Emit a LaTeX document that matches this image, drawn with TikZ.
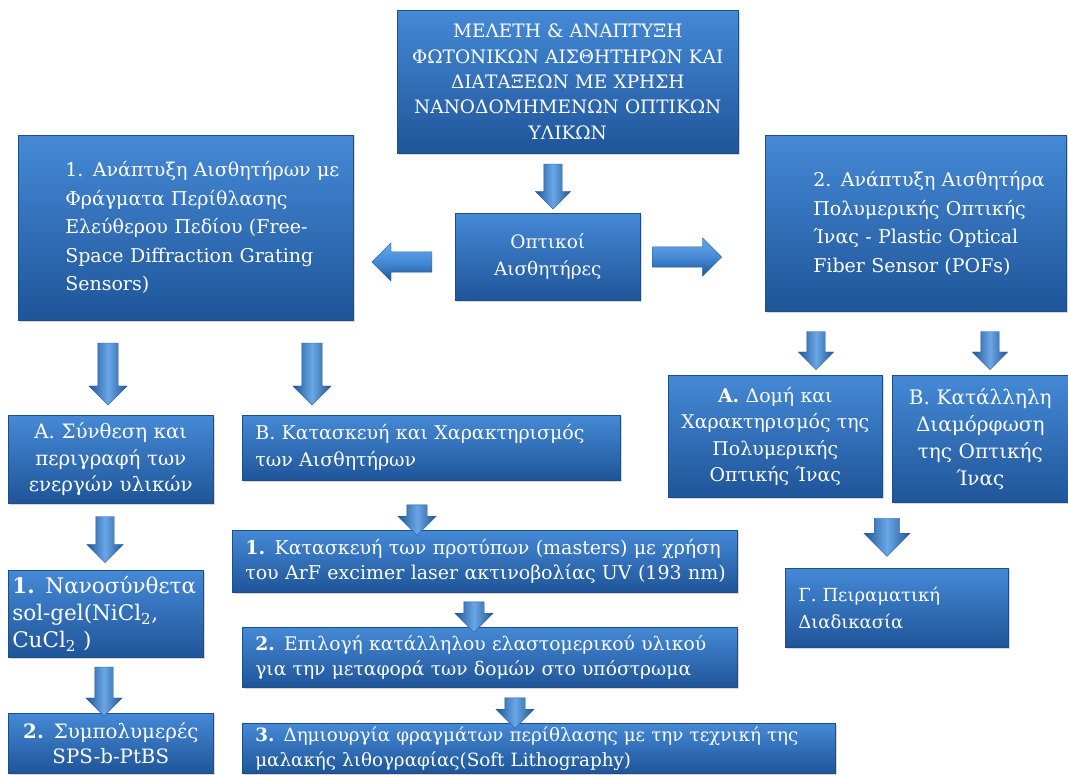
\documentclass[tikz,border=0pt]{standalone}
\usepackage{fontspec}
\setmainfont{DejaVu Serif}
\usetikzlibrary{shapes.arrows,shadows}
\definecolor{boxtop}{HTML}{4589D6}
\definecolor{boxbot}{HTML}{1F5599}
\definecolor{boxedge}{HTML}{1D4E8A}
\definecolor{arrlight}{HTML}{6AA6E6}
\definecolor{arrdark}{HTML}{1F5799}

\begin{document}
\begin{tikzpicture}[x=1pt, y=-1pt]
  \tikzstyle{box} = [draw=boxedge, line width=0.6pt, top color=boxtop, bottom color=boxbot, text=white, anchor=north west, inner ysep=0pt, inner xsep=13pt, drop shadow={shadow xshift=1.5pt, shadow yshift=-1.5pt, opacity=0.3}, font=\fontsize{18}{27}\selectfont]
  \tikzstyle{darr} = [single arrow, shape border rotate=270, single arrow head extend=9pt, minimum width=38pt, inner sep=10pt, left color=arrdark, right color=arrdark, middle color=arrlight, draw=arrdark, line width=0.3pt]
  \tikzstyle{harr} = [darr, top color=arrlight, bottom color=arrdark, middle color=boxtop]

  \useasboundingbox (0,0) rectangle (1068,775);
  \fill[white] (0,0) rectangle (1068,775);
  \clip (0,0) rectangle (1068,775);

  % Boxes
  \node[box, minimum width=341pt, minimum height=143pt, text width=315pt, align=center, font=\fontsize{18.5}{25.3}\selectfont] (main) at (397,10)
    {ΜΕΛΕΤΗ \& ΑΝΑΠΤΥΞΗ\\ ΦΩΤΟΝΙΚΩΝ ΑΙΣΘΗΤΗΡΩΝ ΚΑΙ\\ ΔΙΑΤΑΞΕΩΝ ΜΕ ΧΡΗΣΗ\\ ΝΑΝΟΔΟΜΗΜΕΝΩΝ ΟΠΤΙΚΩΝ\\ ΥΛΙΚΩΝ};
  \node[box, minimum width=185pt, minimum height=87pt, text width=159pt, align=center, font=\fontsize{18.5}{27}\selectfont] (sens) at (455,213)
    {Οπτικοί\\ Αισθητήρες};
  \node[box, minimum width=335pt, minimum height=185pt, text width=309pt, align=left, font=\fontsize{19}{28.5}\selectfont] (free) at (18,135)
    {\leftskip=34pt 1. Ανάπτυξη Αισθητήρων με\\ Φράγματα Περίθλασης\\ Ελεύθερου Πεδίου (Free-\\ Space Diffraction Grating\\ Sensors)\par};
  \node[box, minimum width=301pt, minimum height=176pt, text width=275pt, align=left, font=\fontsize{19}{28.5}\selectfont] (pof) at (765,135)
    {\leftskip=35pt 2. Ανάπτυξη Αισθητήρα\\ Πολυμερικής Οπτικής\\ Ίνας - Plastic Optical\\ Fiber Sensor (POFs)\par};

  \node[box, minimum width=205pt, minimum height=88pt, text width=185pt, inner xsep=10pt, align=center, font=\fontsize{19.8}{26.7}\selectfont] (synth) at (8,415)
    {Α. Σύνθεση και\\ περιγραφή των\\ ενεργών υλικών};
  \node[box, minimum width=195pt, minimum height=87pt, inner xsep=4pt, text width=187pt, align=left, font=\fontsize{21.5}{26.7}\selectfont] (nano) at (8,570)
    {\textbf{1.} Νανοσύνθετα\\ sol-gel(NiCl\textsubscript{2},\\ CuCl\textsubscript{2} )};
  \node[box, minimum width=205pt, minimum height=60pt, text width=185pt, inner xsep=10pt, align=center, font=\fontsize{19.8}{25}\selectfont] (copol) at (8,713)
    {\textbf{2.} Συμπολυμερές\\ SPS-b-PtBS};

  \node[box, minimum width=378pt, minimum height=65pt, text width=352pt, align=left, font=\fontsize{19}{27}\selectfont] (fab) at (242,415)
    {Β. Κατασκευή και  Χαρακτηρισμός\\ των Αισθητήρων};
  \node[box, minimum width=505pt, minimum height=62pt, text width=489pt, inner xsep=8pt, align=left, font=\fontsize{19}{25}\selectfont] (mast) at (232,530)
    {\leftskip=5pt \textbf{1.} Κατασκευή των προτύπων (masters) με χρήση\\ του ArF excimer laser ακτινοβολίας UV (193 nm)\par};
  \node[box, minimum width=495pt, minimum height=60pt, text width=479pt, inner xsep=8pt, align=left, font=\fontsize{18.7}{25}\selectfont] (elast) at (242,627)
    {\leftskip=5pt \textbf{2.} Επιλογή κατάλληλου ελαστομερικού υλικού\\ για την μεταφορά των δομών στο υπόστρωμα\par};
  \node[box, minimum width=593pt, minimum height=50pt, text width=577pt, inner xsep=8pt, align=left, font=\fontsize{18.3}{25}\selectfont] (litho) at (242,723)
    {\leftskip=5pt \textbf{3.} Δημιουργία φραγμάτων περίθλασης με την τεχνική της\\ μαλακής λιθογραφίας(Soft Lithography)\par};

  \node[box, minimum width=214pt, minimum height=122pt, text width=200pt, inner xsep=7pt, align=center, font=\fontsize{18.9}{26.5}\selectfont] (struct) at (668,375)
    {\textbf{Α.} Δομή και\\ Χαρακτηρισμός της\\ Πολυμερικής\\ Οπτικής Ίνας};
  \node[box, minimum width=176pt, minimum height=127pt, text width=162pt, inner xsep=7pt, align=center, font=\fontsize{20}{27}\selectfont] (shape) at (892,375)
    {Β. Κατάλληλη\\ Διαμόρφωση\\ της Οπτικής\\ Ίνας};
  \node[box, minimum width=223pt, minimum height=79pt, text width=197pt, align=left] (exper) at (785,568)
    {Γ. Πειραματική\\ Διαδικασία};

  % Arrows
  \node[darr, minimum height=45pt, minimum width=35pt, inner sep=9pt, single arrow head extend=8.5pt] (a-main) at (553,182) {};
  \node[harr, shape border rotate=180, minimum height=60pt] (a-free) at (407,262) {};
  \node[harr, shape border rotate=0, minimum height=69pt] (a-pof) at (682,257) {};
  \node[darr, minimum height=62pt] (a-synth) at (108,369) {};
  \node[darr, minimum height=62pt] (a-fab) at (312,369) {};
  \node[darr, minimum height=46pt, minimum width=36pt, inner sep=9pt] (a-nano) at (105,535) {};
  \node[darr, minimum height=49pt, minimum width=36pt, inner sep=9pt] (a-copol) at (104,687) {};
  \node[darr, minimum height=30pt] (a-mast) at (417,515) {};
  \node[darr, minimum height=30pt] (a-elast) at (474,612) {};
  \node[darr, minimum height=29pt] (a-litho) at (515,708) {};
  \node[darr, minimum height=38pt, minimum width=35pt, inner sep=9pt, single arrow head extend=8.5pt] (a-struct) at (816,346) {};
  \node[darr, minimum height=38pt, minimum width=35pt, inner sep=9pt, single arrow head extend=8.5pt] (a-shape) at (990,346) {};
  \node[darr, minimum height=38pt, minimum width=46pt, inner sep=12.5pt, single arrow head extend=10.5pt] (a-exper) at (887,531) {};

\end{tikzpicture}
\end{document}
